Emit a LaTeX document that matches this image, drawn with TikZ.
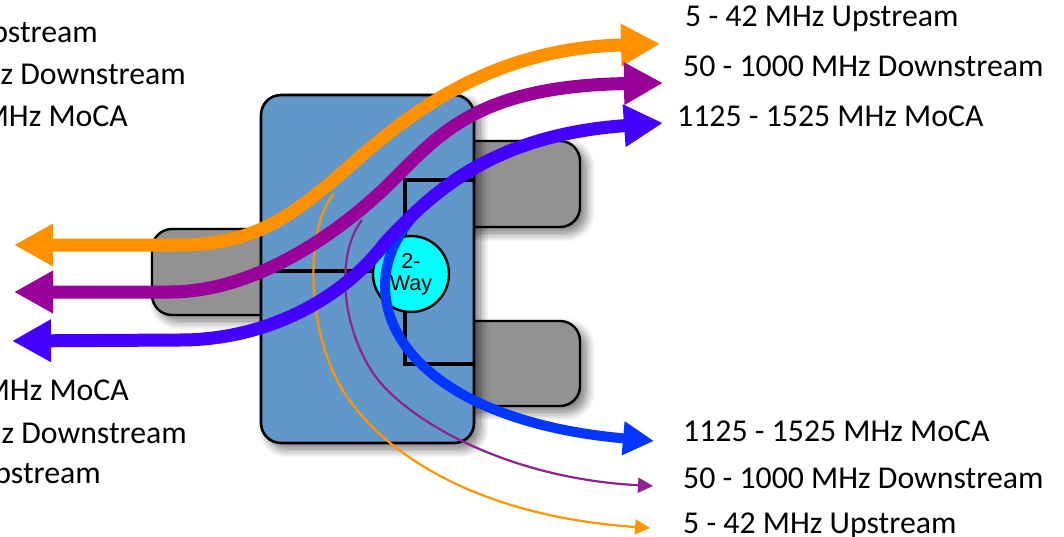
\documentclass[tikz,border=0pt]{standalone}
\usepackage{fontspec}
\setmainfont{Carlito}
\newfontfamily\arialfont{Liberation Sans}
\usetikzlibrary{arrows.meta,shadows.blur}

\definecolor{bodyblue}{HTML}{6297CA}
\definecolor{portgray}{HTML}{929292}
\definecolor{splitcyan}{HTML}{00FFFF}
\definecolor{upcol}{HTML}{FF9000}
\definecolor{downcol}{HTML}{990099}
\definecolor{mocacol}{HTML}{4400FF}
\definecolor{mocaout}{HTML}{0036FF}
\definecolor{thinup}{HTML}{FF9500}
\definecolor{thindown}{HTML}{8E2291}

\tikzset{
  softshadow/.style={blur shadow={shadow xshift=6pt, shadow yshift=-6pt,
      shadow blur radius=9pt, shadow blur steps=12, shadow opacity=55}},
  portbox/.style={softshadow, fill=portgray, draw=black, line width=2.4pt,
      rounded corners=20pt},
  bodybox/.style={softshadow, fill=bodyblue, draw=black, line width=2.6pt,
      rounded corners=20pt},
  wire/.style={draw=black, line width=3.6pt},
  splitter/.style={circle, fill=splitcyan, draw=black, line width=2.4pt,
      minimum size=76pt, inner sep=0pt, align=center,
      font=\arialfont\fontsize{21.5}{22}\selectfont},
  band/.style={line width=13pt, line cap=butt},
  bandboth/.style={band, {Triangle[length=39pt,width=40pt]}-{Triangle[length=39pt,width=40pt]}},
  bandout/.style={line width=10pt, -{Triangle[length=31pt,width=32pt]}},
  thinarrow/.style={line width=2.2pt, -{Triangle[length=15pt,width=15pt]}},
  lbl/.style={inner sep=0pt, font=\fontsize{31.8}{36}\selectfont},
}

\begin{document}
\begin{tikzpicture}[x=1pt,y=-1pt]
\useasboundingbox (0,0) rectangle (1064,537);
\clip (0,0) rectangle (1064,537);

% connector ports behind the housing
\path[portbox] (152,229) rectangle (300,315);
\path[portbox] (440,141) rectangle (580,227);
\path[portbox] (440,321) rectangle (580,406);

% splitter housing
\path[bodybox] (261,95) rectangle (474,443);

% internal wiring
\draw[wire] (262,271) -- (385,271);
\draw[wire] (474,180) -- (405,180) -- (405,364) -- (474,364);
\node[splitter] (split) at (411,274) {2-\\Way};

% arrow end points
\coordinate (upL) at (14,245);
\coordinate (upR) at (660,44);
\coordinate (dnL) at (14,292);
\coordinate (dnR) at (663,83);
\coordinate (mcL) at (12,341);
\coordinate (mcR) at (663,123);
\coordinate (upBr) at (334,194);
\coordinate (upOut) at (650,528);
\coordinate (dnBr) at (362,220);
\coordinate (dnOut) at (653,486);
\coordinate (mcBr) at (480,163);
\coordinate (mcOut) at (654,441);

% thin branches towards the lower port
\draw[thinarrow, draw=thinup] (upBr)
  .. controls (306,225) and (306,320) .. (337,380)
  .. controls (368,440) and (460,515) .. (upOut);
\draw[thinarrow, draw=thindown] (dnBr)
  .. controls (338,250) and (338,320) .. (373,373)
  .. controls (401,415) and (500,478) .. (dnOut);

% MoCA path through the splitter to the lower port
\draw[bandout, draw=mocaout] (mcBr)
  .. controls (430,190) and (385,235) .. (385,285)
  .. controls (385,360) and (470,425) .. (mcOut);

% wide bands from the input port to the upper port
\draw[bandboth, draw=upcol] (upL) -- (180,245)
  .. controls (260,245) and (300,210) .. (360,157)
  .. controls (420,105) and (500,48) .. (upR);
\draw[bandboth, draw=downcol] (dnL) -- (170,292)
  .. controls (250,292) and (330,240) .. (385,188)
  .. controls (435,140) and (470,86) .. (dnR);
\draw[bandboth, draw=mocacol] (mcL) -- (180,340)
  .. controls (270,340) and (345,296) .. (385,243)
  .. controls (430,195) and (490,135) .. (mcR);

% band labels, input side
\node[lbl, anchor=base east] (inUp) at (98,43) {5 - 42 MHz Upstream};
\node[lbl, anchor=base east] (inDn) at (186,85) {50 - 1000 MHz Downstream};
\node[lbl, anchor=base east] (inMc) at (128,127) {1125 - 1525 MHz MoCA};
\node[lbl, anchor=base east] (inMc2) at (129,400) {1125 - 1525 MHz MoCA};
\node[lbl, anchor=base east] (inDn2) at (187,443) {50 - 1000 MHz Downstream};
\node[lbl, anchor=base east] (inUp2) at (101,483) {5 - 42 MHz Upstream};

% band labels, output side
\node[lbl, anchor=base west] (outUp) at (685,27) {5 - 42 MHz Upstream};
\node[lbl, anchor=base west] (outDn) at (683,77) {50 - 1000 MHz Downstream};
\node[lbl, anchor=base west] (outMc) at (677,127) {1125 - 1525 MHz MoCA};
\node[lbl, anchor=base west] (lowMc) at (683,441) {1125 - 1525 MHz MoCA};
\node[lbl, anchor=base west] (lowDn) at (683,488) {50 - 1000 MHz Downstream};
\node[lbl, anchor=base west] (lowUp) at (683,533) {5 - 42 MHz Upstream};
\end{tikzpicture}
\end{document}
